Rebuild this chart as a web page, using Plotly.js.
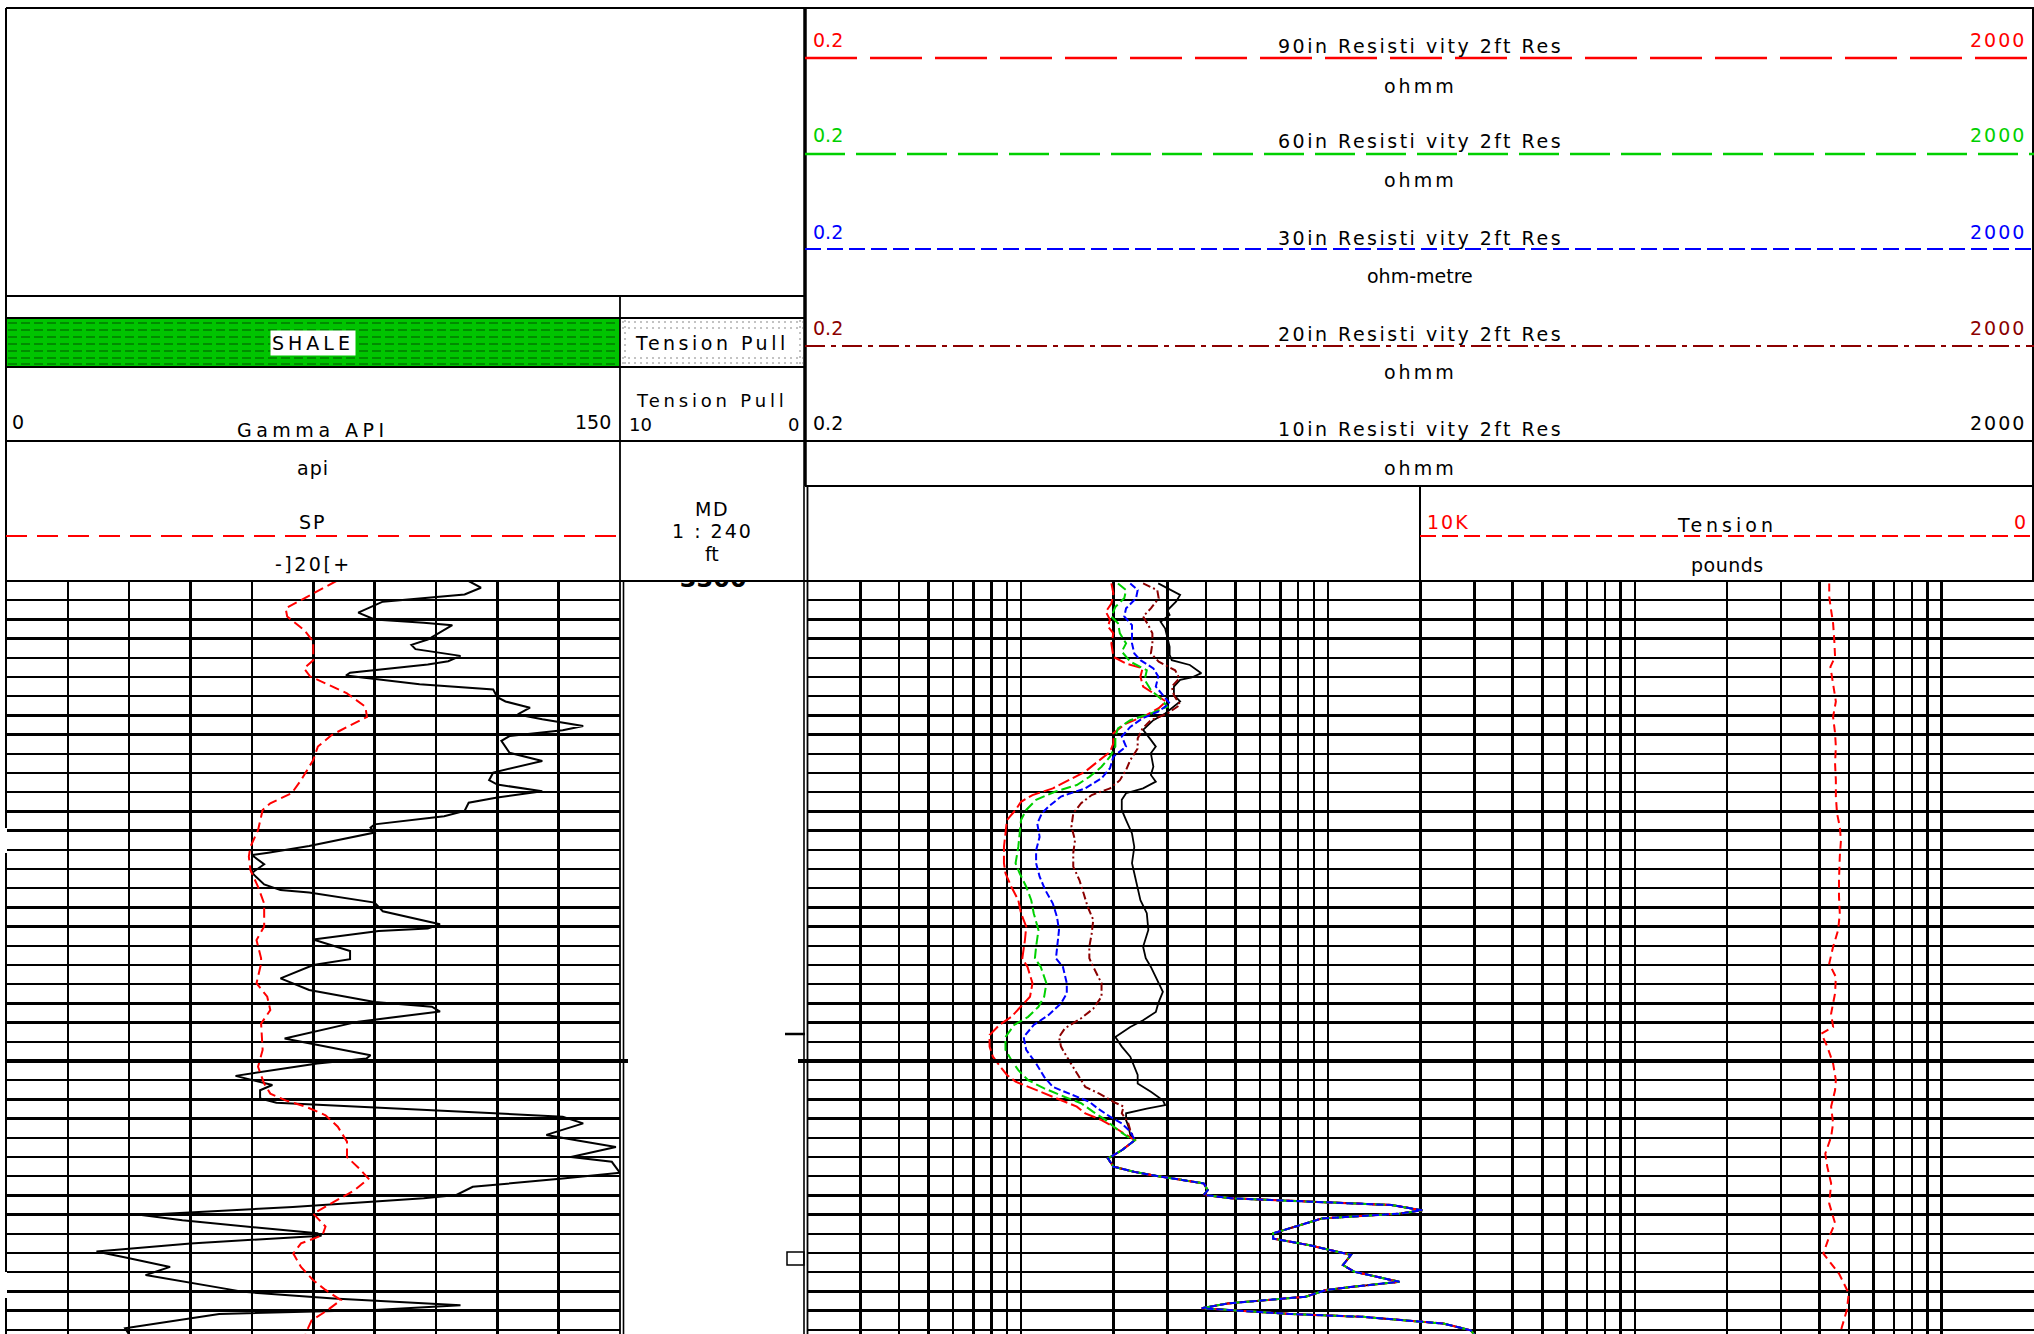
<!DOCTYPE html>
<html><head><meta charset="utf-8">
<script src="https://cdn.plot.ly/plotly-3.0.1.min.js"></script>
<style>html,body{margin:0;padding:0;background:#fff;overflow:hidden}#chart{width:2034px;height:1334px}</style>
</head><body><div id="chart"></div>
<script>
// ---------------- DATA ----------------
// Gamma ray (API) vs measured depth (ft)
const grDepth = [3300.0,3301.4,3302.8,3304.3,3306.6,3308.0,3308.7,3309.2,3312.2,3313.3,
3314.2,3315.6,3316.7,3317.4,3319.1,3319.7,3320.1,3320.8,3321.5,3322.6,
3324.2,3325.1,3326.4,3327.8,3328.8,3330.2,3331.1,3332.3,3333.3,3335.8,
3337.5,3339.9,3341.5,3342.4,3343.8,3345.1,3346.2,3347.9,3349.0,3350.7,
3351.4,3352.4,3355.2,3356.6,3357.1,3359.0,3360.8,3363.2,3364.4,3364.9,
3367.0,3368.8,3371.5,3372.4,3372.9,3374.7,3376.0,3377.1,3378.8,3380.0,
3382.8,3385.2,3387.7,3388.7,3389.7,3391.8,3395.3,3396.3,3398.8,3399.5,
3400.5,3403.1,3404.1,3405.0,3406.1,3407.8,3408.7,3409.9,3410.9,3411.6,
3413.0,3415.4,3416.6,3417.9,3420.0,3421.0,3423.3,3424.5,3426.2,3427.9,
3428.6,3430.4,3432.1,3433.2,3435.9,3436.4,3438.0,3439.7,3441.1,3442.9,
3444.6,3448.1,3449.5,3450.9,3451.9,3452.7,3455.7,3457.0];
const grValue = [113,116,112,92,86,90,102,109,103,99,
100,111,108,103,84,83,87,94,101,119,
120,122,128,125,131,141,136,123,121,123,
131,119,118,120,131,120,113,112,107,90,
89,90,74,64,60,63,60,63,67,74,
90,92,106,103,91,75,80,84,84,75,
67,74,90,104,106,86,68,74,89,88,
76,56,61,65,62,62,66,94,120,136,
141,132,140,149,138,148,150,136,114,110,
102,70,33,43,76,77,45,22,30,40,
34,58,80,111,90,52,29,30];

// SP (mV, 20 mV per division)
const spDepth = [3300.0,3302.6,3304.7,3305.7,3307.4,3310.2,3312.6,3316.5,3318.2,3319.9,
3320.6,3322.0,3323.4,3326.2,3328.3,3330.4,3332.1,3334.5,3337.3,3341.5,
3344.2,3346.3,3347.7,3351.9,3355.4,3357.4,3360.2,3363.7,3367.2,3372.0,
3374.8,3378.6,3379.7,3383.8,3386.6,3389.4,3392.2,3397.7,3401.2,3404.7,
3406.8,3408.2,3409.5,3411.3,3413.7,3416.8,3420.0,3422.4,3424.5,3426.9,
3429.7,3431.8,3434.5,3436.3,3438.0,3440.1,3442.9,3445.7,3447.7,3449.8,
3452.2,3454.0,3456.8];
const spValue = [7.5,0,-6.5,-9,-8.5,-3,0,0,-3,-1,
1.5,6,11,17,17.5,11,6,1.5,0,-4,
-7,-14,-16.5,-18,-20.5,-21,-20.5,-18,-16,-16,
-18.5,-17,-17,-18.5,-15,-14,-17,-16.5,-18,-16,
-14,-9,-2.5,4,8,11,11,15,18,13.5,
5.5,0,4,3,-4,-6.5,-4,0,4,9,
4,-0.5,-2.5];

// Resistivity (ohmm) - upper sections, per curve
const res10Depth = [3300.5,3301.5,3302.9,3304.3,3306.1,3307.1,3308.5,3309.9,3311.6,3313.7,
3315.4,3316.5,3317.5,3319.2,3320.1,3320.6,3322.0,3323.8,3325.1,3326.5,
3327.6,3329.0,3331.0,3333.1,3334.5,3335.9,3338.7,3340.4,3341.8,3343.2,
3344.2,3345.6,3347.7,3349.8,3352.6,3355.4,3358.8,3360.9,3363.7,3366.5,
3369.2,3372.7,3376.2,3378.6,3380.4,3383.8,3385.6,3388.0,3389.8,3391.5,
3392.9,3395.0,3397.0,3399.1,3401.2,3402.9,3404.7,3406.4,3408.2,3409.2,
3409.9,3410.9,3412.3,3413.7,3415.4];
const res10Value = [2.8,3.0,3.3,3.2,3.0,3.05,2.85,2.95,3.0,3.05,
3.05,3.1,3.55,3.87,3.6,3.3,3.15,3.15,3.3,3.1,
2.95,2.7,2.5,2.65,2.75,2.65,2.7,2.65,2.75,2.5,
2.2,2.13,2.13,2.2,2.3,2.34,2.3,2.34,2.4,2.45,
2.57,2.6,2.5,2.55,2.65,2.8,2.9,2.8,2.75,2.5,
2.27,2.03,2.13,2.27,2.34,2.4,2.4,2.65,2.9,2.95,
2.57,2.2,2.2,2.24,2.27];

const res20Depth = [3300.5,3301.9,3303.6,3305.7,3307.4,3309.2,3310.9,3313.0,3315.1,3316.8,
3318.6,3320.3,3322.0,3323.8,3325.8,3327.6,3329.0,3330.7,3332.8,3334.9,
3337.3,3339.4,3341.5,3343.2,3344.6,3346.3,3348.4,3351.2,3354.0,3356.7,
3359.5,3362.3,3365.1,3367.9,3370.6,3373.4,3376.2,3378.6,3380.4,3383.8,
3386.6,3389.1,3391.1,3393.2,3395.0,3397.0,3399.1,3401.2,3403.3,3405.4,
3406.8,3408.5,3409.5,3410.9,3412.7,3414.4];
const res20Value = [2.5,2.78,2.81,2.65,2.5,2.6,2.68,2.68,2.65,2.81,
3.18,3.28,3.1,3.15,3.3,3.0,2.65,2.49,2.4,2.4,
2.27,2.2,2.1,1.95,1.7,1.57,1.48,1.46,1.5,1.48,
1.48,1.55,1.6,1.65,1.72,1.7,1.67,1.67,1.72,1.83,
1.83,1.72,1.57,1.39,1.33,1.35,1.41,1.48,1.55,1.62,
1.8,2.0,2.16,2.13,2.23,2.27];

const res30Depth = [3300.5,3301.9,3303.6,3305.7,3307.4,3309.2,3310.9,3313.0,3315.1,3316.5,
3318.2,3319.9,3322.0,3323.8,3325.5,3327.2,3328.6,3330.4,3332.4,3334.5,
3336.6,3339.0,3341.1,3343.2,3344.9,3347.0,3348.4,3350.5,3353.3,3356.1,
3358.8,3361.6,3364.4,3367.2,3370.0,3372.7,3376.2,3378.6,3380.4,3383.8,
3385.9,3388.0,3390.4,3392.5,3395.0,3397.7,3400.5,3403.3,3405.4,3406.8,
3408.5,3409.9,3411.6,3413.0,3414.7];
const res30Value = [2.27,2.4,2.37,2.2,2.17,2.3,2.3,2.3,2.34,2.45,
2.7,2.8,2.75,2.9,3.05,2.8,2.49,2.27,2.13,2.2,
2.0,1.95,1.83,1.62,1.35,1.23,1.17,1.13,1.15,1.12,
1.12,1.15,1.2,1.27,1.31,1.33,1.31,1.3,1.37,1.41,
1.41,1.35,1.23,1.1,1.02,1.04,1.12,1.19,1.27,1.43,
1.67,1.78,1.95,2.13,2.27];

const res60Depth = [3300.5,3301.9,3303.6,3305.4,3307.4,3308.8,3310.9,3313.0,3314.7,3316.8,
3318.6,3320.6,3322.7,3324.5,3326.2,3327.6,3329.0,3330.7,3332.4,3334.5,
3336.6,3338.7,3340.8,3342.5,3343.9,3345.6,3347.7,3349.8,3352.6,3355.4,
3358.8,3360.9,3363.7,3366.5,3369.2,3372.7,3376.2,3378.6,3380.4,3383.8,
3386.6,3388.7,3390.8,3392.5,3395.0,3397.7,3399.8,3401.9,3404.0,3405.7,
3407.5,3408.8,3410.6,3412.3,3414.4,3415.8];
const res60Value = [2.07,2.2,2.17,2.03,1.97,2.07,2.1,2.2,2.13,2.27,
2.57,2.53,2.65,2.85,3.0,2.65,2.27,2.07,2.03,2.03,
1.95,1.83,1.67,1.52,1.29,1.12,1.04,1.0,0.99,0.98,
0.96,0.99,1.04,1.08,1.1,1.14,1.12,1.11,1.16,1.21,
1.19,1.14,1.055,0.95,0.89,0.89,0.93,0.98,1.055,1.19,
1.39,1.57,1.72,1.89,2.07,2.23];

const res90Depth = [3300.5,3302.6,3304.7,3306.4,3308.1,3309.5,3310.9,3313.0,3315.8,3317.2,
3318.2,3319.9,3322.0,3323.4,3325.1,3326.5,3327.9,3329.7,3331.7,3333.8,
3335.6,3337.6,3339.7,3341.5,3343.2,3344.6,3346.0,3347.7,3349.8,3352.6,
3355.4,3358.8,3360.9,3363.7,3366.5,3369.2,3372.0,3374.8,3378.6,3380.4,
3383.8,3386.6,3388.7,3390.8,3392.5,3394.6,3397.0,3399.1,3400.9,3402.9,
3404.3,3405.4,3407.5,3408.5,3409.5,3410.9,3412.3,3413.7,3415.4];
const res90Value = [1.97,2.0,1.97,1.89,1.95,1.92,2.0,1.97,2.0,2.2,
2.49,2.45,2.5,2.7,2.97,2.81,2.57,2.2,2.0,2.0,
1.95,1.78,1.62,1.43,1.27,1.09,1.0,0.96,0.9,0.89,
0.88,0.88,0.89,0.93,0.98,1.0,1.04,1.03,1.01,1.05,
1.09,1.07,1.0,0.93,0.85,0.79,0.79,0.81,0.85,0.9,
0.96,1.055,1.27,1.39,1.52,1.62,1.83,2.0,2.2];

// Lower section where all resistivity curves read the same
const resTailDepth = [3416.5,3418.6,3420.3,3422.0,3423.1,3424.0,3425.5,3426.9,3427.9,3428.6,
3429.3,3430.0,3431.1,3431.8,3432.8,3435.9,3437.0,3438.4,3440.4,3442.5,
3443.9,3446.0,3447.0,3447.7,3449.1,3450.5,3451.5,3452.2,3452.7,3453.3,
3454.7,3456.1,3457.0];
const resTailValue = [2.35,2.13,1.92,2.0,2.34,2.8,3.94,4.06,3.94,4.85,
8.74,16.1,20.3,17.1,9.57,6.63,6.63,8.74,11.9,11.2,
12.2,17.1,12.2,9.88,8.47,4.73,3.88,5.52,7.5,13.0,
23.8,29.2,30];

// Tension (pounds)
const tenDepth = [3300.5,3303.3,3306.1,3308.8,3312.3,3315.8,3317.9,3321.3,3325.1,3328.3,
3331.7,3334.5,3338.0,3341.5,3344.9,3348.4,3351.2,3354.0,3357.4,3362.3,
3365.8,3369.2,3372.7,3376.2,3378.6,3379.7,3382.5,3385.9,3390.1,3392.9,
3394.3,3397.0,3400.5,3404.0,3406.1,3409.5,3413.0,3415.8,3419.3,3422.0,
3425.5,3429.7,3433.8,3436.6,3440.1,3442.2,3444.3,3448.4,3451.9,3456.1];
const tenValue = [3335,3335,3304,3272,3253,3240,3316,3272,3227,3272,
3240,3227,3240,3227,3227,3208,3163,3144,3163,3176,
3176,3163,3189,3272,3316,3335,3227,3240,3304,3272,
3463,3367,3272,3227,3240,3304,3272,3304,3399,3367,
3304,3335,3240,3335,3431,3304,3176,3017,3048,3144];

// Log grid values for resistivity scale 0.2 - 2000
const resGridVals = [0.2,0.3,0.4,0.5,0.6,0.7,0.8,0.9,1,2,3,4,5,6,7,8,9,10,
20,30,40,50,60,70,80,90,100,200,300,400,500,600,700,800,900,1000,2000];

const depthLabels = ['3300'];
const depthLabelAt = [3300];

// ---------------- LAYOUT ----------------
const W = 2034, H = 1334;
const X = p => p / W, Y = p => 1 - p / H;
const FONT = 'DejaVu Sans, sans-serif';
const TOP = 581;
const depthTop = 3300, pxPerFt = 4.8;
const depthBottom = depthTop + (H - TOP) / pxPerFt;

const RED = '#ff0000', GREEN = '#00d000', BLUE = '#0000ff', MAROON = '#8b0000';

const shapes = [];
function R(x0, y0, x1, y1, fill) {
  shapes.push({type:'rect', xref:'paper', yref:'paper', x0:X(x0), y0:Y(y0), x1:X(x1), y1:Y(y1),
    fillcolor:fill, line:{width:0}});
}
function L(x0, y0, x1, y1, color, width, dash) {
  shapes.push({type:'line', xref:'paper', yref:'paper', x0:X(x0), y0:Y(y0), x1:X(x1), y1:Y(y1),
    line:{color:color, width:width, dash:dash || 'solid'}});
}

// SHALE pattern
R(6, 318, 620, 367, '#00c400');
[323, 330, 337, 344, 351, 358, 364].forEach(y => L(8, y, 618, y, '#007a00', 1.5, '9px,4px'));
// Tension pull dotted pattern
[322, 328, 358, 363].forEach(y => L(622, y, 803, y, '#b0b0b0', 1.5, '2px,4px'));
[625, 800].forEach(x => L(x, 320, x, 366, '#b0b0b0', 1.5, '2px,4px'));

// borders
L(6, 8, 2034, 8, '#000', 2);
L(6, 8, 6, 828, '#000', 2); L(6, 853, 6, 1272, '#000', 2); L(6, 1298, 6, 1334, '#000', 2);
L(6, 296, 805, 296, '#000', 2);
L(6, 318, 805, 318, '#000', 2);
L(6, 367, 805, 367, '#000', 2);
L(6, 441, 2034, 441, '#000', 2);
L(805, 486, 2034, 486, '#000', 2);
L(6, 581, 2034, 581, '#000', 2);
L(620, 296, 620, 1334, '#000', 1.8); L(623.5, 581, 623.5, 1334, '#000', 1.6);
L(805, 8, 805, 486, '#000', 3.5);
L(804, 486, 804, 1334, '#000', 1.6); L(807.5, 486, 807.5, 1334, '#000', 1.8);
L(1420, 486, 1420, 581, '#000', 2);
L(2033, 8, 2033, 581, '#000', 2);

// header curve lines
L(6, 536, 620, 536, RED, 2, '21px,10px');
L(805, 58, 2034, 58, RED, 2.5, '52px,13px');
L(805, 154, 2034, 154, GREEN, 2.5, '40px,11px');
L(805, 249, 2034, 249, BLUE, 2, '16px,6px');
L(805, 346, 2034, 346, MAROON, 2, '20px,6px,5px,6px');
L(1420, 536, 2034, 536, RED, 2, '16px,6px');

// depth track marks
L(785, 1034, 805, 1034, '#000', 2.5);
shapes.push({type:'rect', xref:'paper', yref:'paper', x0:X(787), y0:Y(1252), x1:X(804), y1:Y(1265),
  line:{color:'#000', width:1.5}, fillcolor:'rgba(0,0,0,0)'});

// thick 100 ft line
shapes.push({type:'line', xref:'paper', yref:'y', x0:X(6), x1:X(628), y0:3400, y1:3400, line:{color:'#000', width:4}});
shapes.push({type:'line', xref:'paper', yref:'y', x0:X(798), x1:1, y0:3400, y1:3400, line:{color:'#000', width:4}});

const annos = [];
function T(text, x, y, anchor, color, ls, opts, size) {
  const t = ls ? '<span style="letter-spacing:' + ls + 'px">' + text + '</span>' : text;
  annos.push(Object.assign({text:t, x:X(x), y:Y(y), xref:'paper', yref:'paper', showarrow:false,
    xanchor:anchor || 'center', yanchor:'middle',
    font:{family:FONT, size:size || 19, color:color || '#000'}}, opts || {}));
}
T('SHALE', 313, 343, 'center', '#000', 4, {bgcolor:'#fff', borderpad:1});
T('Tension Pull', 712, 343, 'center', '#000', 3.5, {bgcolor:'#fff', borderpad:0});
T('0', 10, 422, 'left');
T('Gamma API', 313, 430, 'center', '#000', 4.5);
T('150', 613, 422, 'right');
T('Tension Pull', 712, 400, 'center', '#000', 3.8, {}, 18);
T('10', 627, 425, 'left', '#000', 0, {}, 18);
T('0', 801, 425, 'right', '#000', 0, {}, 18);
T('api', 313, 468, 'center', '#000', 1);
T('SP', 313, 522, 'center', '#000', 2);
T('-]20[+', 313, 564, 'center', '#000', 2.5);
T('MD', 712, 509, 'center', '#000', 1.5);
T('1 : 240', 712, 531, 'center', '#000', 2);
T('ft', 712, 554);

const resHeads = [
  ['90in Resisti vity 2ft Res', 'ohmm', RED, 40, 46, 86],
  ['60in Resisti vity 2ft Res', 'ohmm', GREEN, 135, 141, 180],
  ['30in Resisti vity 2ft Res', 'ohm-metre', BLUE, 232, 238, 276],
  ['20in Resisti vity 2ft Res', 'ohmm', MAROON, 328, 334, 372],
  ['10in Resisti vity 2ft Res', 'ohmm', '#000', 423, 429, 468]
];
resHeads.forEach(h => {
  T('0.2', 811, h[3], 'left', h[2]);
  T('2000', 2028, h[3], 'right', h[2], 2);
  T(h[0], 1420, h[4], 'center', '#000', 2.5);
  T(h[1], 1420, h[5], 'center', '#000', h[1] === 'ohmm' ? 3 : 0);
});
T('10K', 1425, 522, 'left', RED, 2);
T('0', 2028, 522, 'right', RED);
T('Tension', 1727, 525, 'center', '#000', 4);
T('pounds', 1727, 565, 'center', '#000', 0.5);

const grid = {showgrid:true, gridcolor:'#000', gridwidth:2.5, zeroline:false, showline:false,
  showticklabels:false, ticks:'', fixedrange:true};
const nogrid = {showgrid:false, zeroline:false, showline:false, showticklabels:false, ticks:'', fixedrange:true};
const yDom = [0, 1 - TOP / H];

const layout = {
  width:W, height:H, autosize:false, margin:{l:0, r:0, t:0, b:0, pad:0},
  paper_bgcolor:'#fff', plot_bgcolor:'rgba(0,0,0,0)', showlegend:false, hovermode:false,
  font:{family:FONT, size:19, color:'#000'},
  xaxis: Object.assign({}, grid, {domain:[X(6.5), X(620)], range:[0, 150], tick0:0, dtick:15, anchor:'y'}),
  xaxis4: Object.assign({}, nogrid, {overlaying:'x', range:[-100, 100], anchor:'y'}),
  xaxis2: Object.assign({}, nogrid, {domain:[X(620), X(806.5)], range:[0, 1], anchor:'y2'}),
  xaxis3: Object.assign({}, grid, {type:'log', domain:[X(806.5), 1],
    range:[Math.log10(0.2), Math.log10(2000)], tickmode:'array', tickvals:resGridVals, anchor:'y'}),
  xaxis5: Object.assign({}, nogrid, {domain:[X(1420), 1], range:[10000, 0], anchor:'y2'}),
  yaxis: Object.assign({}, grid, {domain:yDom, range:[depthBottom, depthTop], tick0:3300, dtick:4, anchor:'x'}),
  yaxis2: Object.assign({}, nogrid, {domain:yDom, range:[depthBottom, depthTop], anchor:'x2'}),
  shapes:shapes, annotations:annos
};

const line = (color, width, dash) => ({color:color, width:width, dash:dash || 'solid'});
const traces = [
  {type:'scatter', mode:'lines', x:grValue, y:grDepth, xaxis:'x', yaxis:'y', line:line('#000', 2)},
  {type:'scatter', mode:'lines', x:spValue, y:spDepth, xaxis:'x4', yaxis:'y', line:line(RED, 2, '10px,5px')},
  {type:'scatter', mode:'lines', x:res10Value.concat(resTailValue), y:res10Depth.concat(resTailDepth),
    xaxis:'x3', yaxis:'y', line:line('#000', 1.8)},
  {type:'scatter', mode:'lines', x:res20Value.concat(resTailValue), y:res20Depth.concat(resTailDepth),
    xaxis:'x3', yaxis:'y', line:line(MAROON, 2, '8px,3px,2px,3px')},
  {type:'scatter', mode:'lines', x:res90Value.concat(resTailValue), y:res90Depth.concat(resTailDepth),
    xaxis:'x3', yaxis:'y', line:line(RED, 2, '12px,4px')},
  {type:'scatter', mode:'lines', x:res60Value.concat(resTailValue), y:res60Depth.concat(resTailDepth),
    xaxis:'x3', yaxis:'y', line:line(GREEN, 2, '10px,4px')},
  {type:'scatter', mode:'lines', x:res30Value.concat(resTailValue), y:res30Depth.concat(resTailDepth),
    xaxis:'x3', yaxis:'y', line:line(BLUE, 2, '7px,3px')},
  {type:'scatter', mode:'lines', x:tenValue, y:tenDepth, xaxis:'x5', yaxis:'y2', line:line(RED, 2, '8px,5px')},
  {type:'scatter', mode:'text', x:[0.5], y:depthLabelAt, text:depthLabels.map(s => '<b>' + s + '</b>'),
    xaxis:'x2', yaxis:'y2', textposition:'middle center', cliponaxis:true,
    textfont:{family:FONT, size:24, color:'#000'}}
];

Plotly.newPlot('chart', traces, layout, {staticPlot:true, displayModeBar:false});
</script></body></html>
